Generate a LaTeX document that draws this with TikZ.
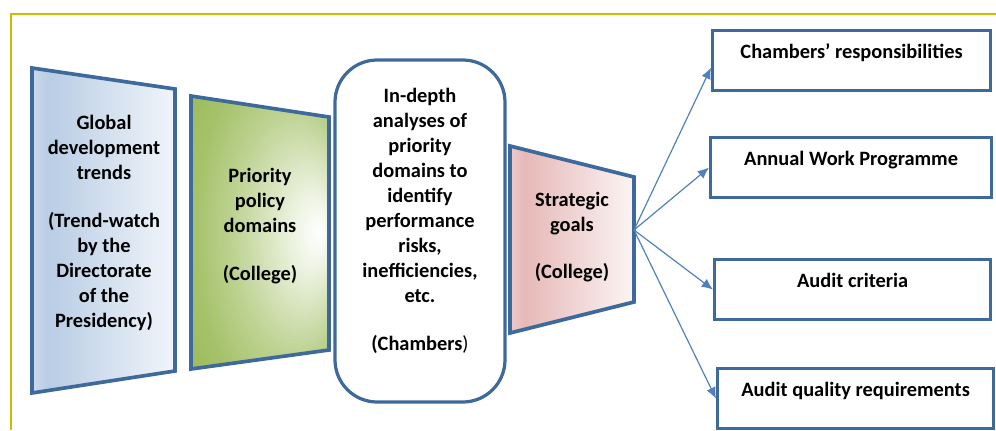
\documentclass[tikz,border=0pt]{standalone}
\usepackage{fontspec}
\setmainfont{Carlito}
\usetikzlibrary{arrows.meta}

\definecolor{edge_blue}{HTML}{3E6A9B}
\definecolor{arrow_blue}{HTML}{4F81BD}
\definecolor{frame_yellow}{HTML}{C8BE00}
\definecolor{trend_blue}{HTML}{B9CDE5}
\definecolor{domain_green}{HTML}{9BBB59}
\definecolor{goal_red}{HTML}{E6B9B8}

\pgfdeclarehorizontalshading{trend_fade}{100bp}{color(0bp)=(trend_blue!75!white); color(25bp)=(trend_blue!75!white); color(31bp)=(trend_blue); color(75bp)=(trend_blue!20!white); color(100bp)=(trend_blue!20!white)}
\pgfdeclarehorizontalshading{goal_fade}{100bp}{color(0bp)=(goal_red!75!white); color(25bp)=(goal_red!75!white); color(31bp)=(goal_red); color(75bp)=(goal_red!15!white); color(100bp)=(goal_red!15!white)}
\pgfdeclareradialshading{domain_glow}{\pgfpoint{22bp}{0bp}}{color(0bp)=(white); color(6bp)=(domain_green!15!white); color(22bp)=(domain_green!65!white); color(32bp)=(domain_green!90!white); color(40bp)=(domain_green); color(50bp)=(domain_green)}

\tikzstyle{stage_shape}=[draw=edge_blue,
                         line width=2.6pt,
                         line join=miter, ]
\tikzstyle{stage_text}=[font=\bfseries\fontsize{14.5}{17.8}\selectfont,
                        align=center,
                        inner sep=0, ]
\tikzstyle{output_box}=[rectangle,
                        draw=edge_blue,
                        line width=2.3pt,
                        anchor=north west,
                        inner sep=0,
                        text height=0.69cm,
                        text depth=0.81cm,
                        font=\bfseries\fontsize{14.5}{17.8}\selectfont, ]
\tikzstyle{fan_arrow}=[draw=arrow_blue,
                       line width=0.85pt,
                       -{Latex[length=8pt,width=7pt]}, ]

\begin{document}
\begin{tikzpicture}[x=0.025cm, y=-0.025cm]
  \useasboundingbox (0,0) rectangle (996,430);

  % Frame
  % -------------------------------------------------------------
  \draw[frame_yellow, line width=1.1pt] (11,430) -- (11,14) -- (996,14);

  % Stages
  % -------------------------------------------------------------
  \draw[stage_shape, shading=trend_fade] (32,68) -- (175,89) -- (175,371) -- (32,393) -- cycle;
  \draw[stage_shape, shading=domain_glow] (191,96) -- (329,117) -- (329,350) -- (191,369) -- cycle;
  \draw[stage_shape, line width=2.3pt, fill=white, rounded corners=30] (335,60) rectangle (505,402);
  \draw[stage_shape, shading=goal_fade] (510,146) -- (634,177) -- (634,302) -- (510,333) -- cycle;

  \node at (104,223) (trends) [stage_text] {Global\\development\\trends\\[16pt](Trend-watch\\by the\\Directorate\\of the\\Presidency)};
  \node at (260,226) (domains) [stage_text] {Priority\\policy\\domains\\[16pt](College)};
  \node at (420,221) (analyses) [stage_text] {In-depth\\analyses of\\priority\\domains to\\identify\\performance\\risks,\\inefficiencies,\\etc.\\[16pt](Chambers\textmd{)}};
  \node at (572,237) (goals) [stage_text] {Strategic\\goals\\[16pt](College)};

  % Outputs
  % -------------------------------------------------------------
  \coordinate (fan) at (634,230);
  \foreach \n/\x/\y/\w/\dy/\t in {resp/711/29/278/7/Chambers’ responsibilities,
                                  awp/709/136/281/0/Annual Work Programme,
                                  crit/713/258/276/0/Audit criteria,
                                  aqr/716/367/276/0/Audit quality requirements} {
      \node at (\x,\y) (\n) [output_box, minimum width=\w*0.025cm] {\t};
      \draw[fan_arrow] (fan) -- ([yshift=-\dy*0.025cm]\n.west);
    }
\end{tikzpicture}
\end{document}
